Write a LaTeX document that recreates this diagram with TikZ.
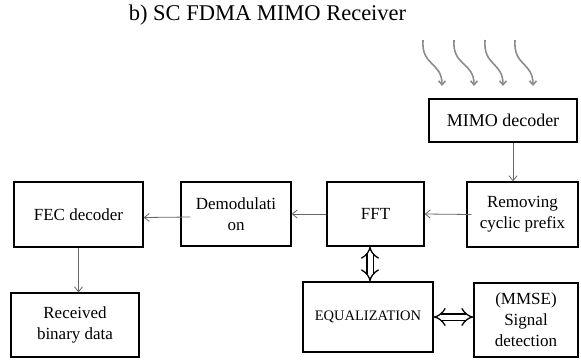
\documentclass[tikz,border=0pt]{standalone}
\usepackage{xcolor}
\usepackage{fontspec}
\setmainfont{Liberation Serif}
\usetikzlibrary{arrows.meta}

\begin{document}
\begin{tikzpicture}[x=1pt,y=-1pt,
blk/.style={draw,line width=1.3pt,align=center,inner sep=0pt,
  font=\fontsize{17}{21}\selectfont},
arr/.style={draw=black!60,line width=0.8pt,-{Straight Barb[length=5pt,width=8pt]}},
wave/.style={draw=black!45,line width=1.6pt,-{Straight Barb[length=4pt,width=7pt]}},
dbl/.style={line width=1.3pt,double distance=5pt,{Implies}-{Implies}}
]
\useasboundingbox (0,0) rectangle (581,359);
\node (title) at (267.5,15) {\fontsize{22.5}{24}\selectfont b) SC FDMA MIMO Receiver};

\node[blk,minimum width=148pt,minimum height=43pt] (mimo) at (503,120.5)
  {\fontsize{18}{21}\selectfont MIMO decoder};
\node[blk,minimum width=111pt,minimum height=65pt] (rcp) at (522.5,214.5)
  {Removing\\cyclic prefix};
\node[blk,minimum width=97pt,minimum height=64pt] (fft) at (375.5,214) {FFT};
\node[blk,minimum width=110pt,minimum height=64pt] (demod) at (236,214)
  {Demodulati\\on};
\node[blk,minimum width=129pt,minimum height=65pt] (fec) at (78.5,214.5)
  {FEC decoder};
\node[blk,minimum width=128pt,minimum height=64pt] (rbd) at (75,325)
  {Received\\binary data};
\node[blk,minimum width=130pt,minimum height=70pt] (eq) at (368,317)
  {\fontsize{14.5}{16}\selectfont EQUALIZATION};
\node[blk,minimum width=104pt,minimum height=74pt] (mmse) at (526,320)
  {(MMSE)\\Signal\\detection};

% antennas
\foreach \i/\xa/\xb in {1/423/442,2/454/474,3/485/503,4/515/533}
{
  \coordinate (w\i) at (\xa,40);
  \coordinate (v\i) at (\xb,86);
  \draw[wave] (w\i) .. controls ++(-2,26) and ++(0,-24) .. (v\i);
}

\draw[arr] (mimo.south -| 513,0) -- (rcp.north -| 513,0);
\draw[arr] ([xshift=5pt]rcp.west) -- (fft.east);
\draw[arr] (fft.west) -- (demod.east);
\draw[arr] ([xshift=10pt,yshift=-3pt]demod.west) -- ([yshift=-3pt]fec.east);
\draw[arr] (fec.south) -- (rbd.north -| fec.south);
\draw[dbl] (fft.south -| 370,0) -- (eq.north -| 370,0);
\draw[dbl] (eq.east) -- (mmse.west |- eq.east);
\end{tikzpicture}
\end{document}
